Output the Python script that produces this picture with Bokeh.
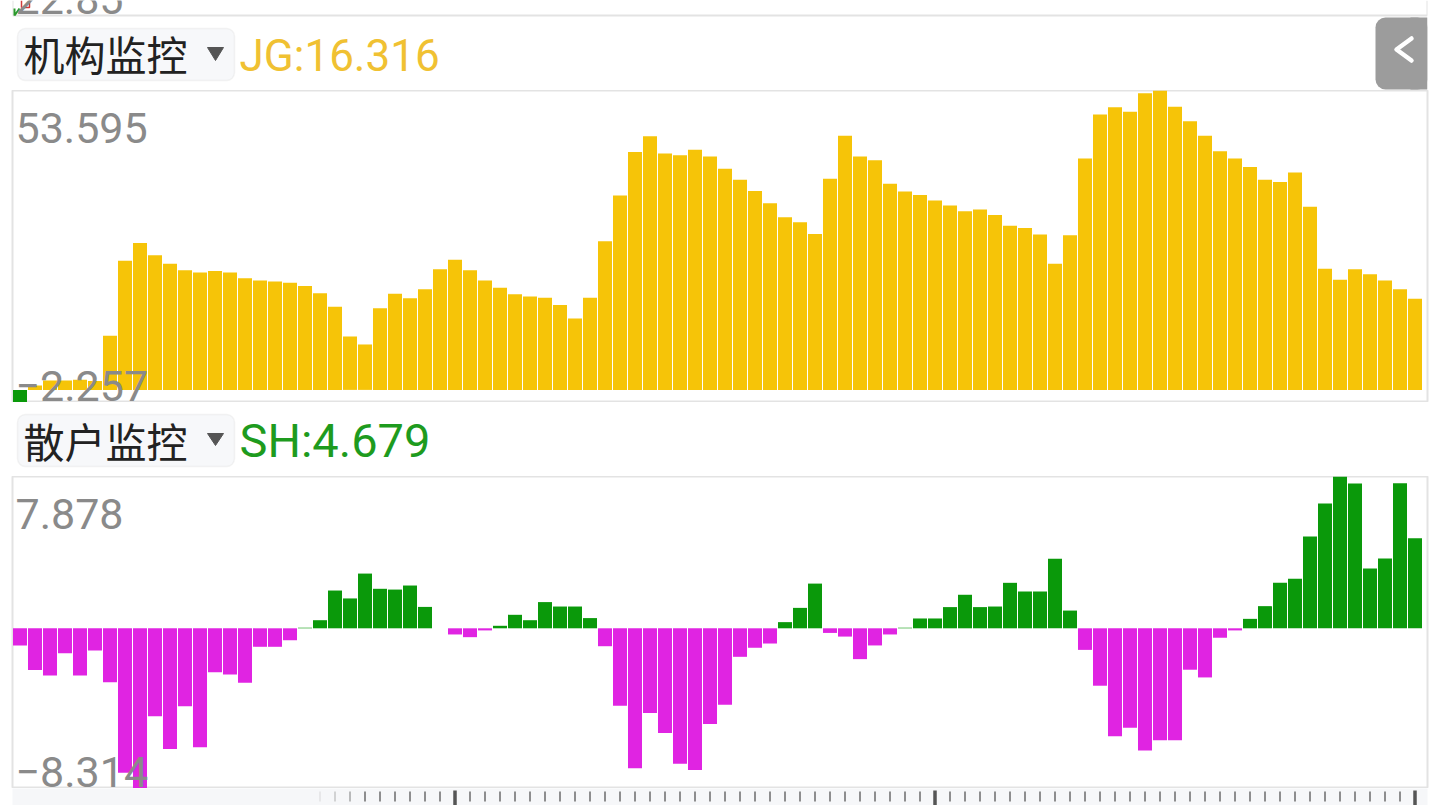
from bokeh.plotting import figure
from bokeh.layouts import column
from bokeh.models import Range1d, Label, BoxAnnotation, ColumnDataSource
from bokeh.embed import file_html
from bokeh.resources import INLINE

# ---------------- data ----------------
JG_VALUES = [-2.257, 0.8, 1.7, 1.7, 1.8, 1.6, 9.68, 23.1, 26.3, 24.1,
             22.6, 21.4, 21.0, 21.3, 21.0, 20.0, 19.6, 19.4, 19.2, 18.6,
             17.3, 14.9, 9.56, 8.13, 14.6, 17.2, 16.4, 18.0, 21.6, 23.3,
             21.4, 19.6, 18.3, 17.1, 16.7, 16.5, 15.2, 12.8, 16.5, 26.6,
             34.8, 42.6, 45.4, 42.3, 42.0, 43.0, 41.8, 39.6, 37.6, 35.6,
             33.4, 30.9, 30.0, 27.9, 37.8, 45.5, 41.8, 41.1, 36.9, 35.5,
             34.9, 33.9, 33.0, 32.0, 32.3, 31.3, 29.4, 29.0, 27.8, 22.6,
             27.7, 41.4, 49.3, 50.6, 49.8, 53.1, 53.595, 50.7, 48.1, 45.5,
             42.7, 41.4, 39.9, 37.6, 37.2, 38.9, 32.8, 21.7, 19.7, 21.6,
             20.7, 19.6, 18.0, 16.316]
SH_VALUES = [-0.89, -2.17, -2.45, -1.29, -2.45, -1.15, -2.80, -7.50, -8.314, -4.56,
             -6.27, -4.04, -6.17, -2.28, -2.40, -2.83, -0.96, -0.96, -0.62, 0.03,
             0.42, 1.96, 1.55, 2.84, 2.05, 2.01, 2.22, 1.11, 0.0, -0.32,
             -0.46, -0.11, 0.13, 0.70, 0.42, 1.36, 1.13, 1.13, 0.53, -0.93,
             -4.02, -7.26, -4.39, -5.44, -7.03, -7.36, -4.97, -3.97, -1.48, -1.01,
             -0.79, 0.32, 1.06, 2.32, -0.24, -0.43, -1.60, -0.89, -0.32, 0.03,
             0.51, 0.51, 1.10, 1.74, 1.10, 1.13, 2.36, 1.91, 1.91, 3.61,
             0.92, -1.12, -2.98, -5.60, -5.16, -6.34, -5.81, -5.81, -2.15, -2.55,
             -0.49, -0.11, 0.49, 1.15, 2.36, 2.57, 4.76, 6.48, 7.878, 7.51,
             3.10, 3.62, 7.53, 4.679]
JG_TITLE = "机构监控"
SH_TITLE = "散户监控"
JG_LAST = "JG:16.316"
SH_LAST = "SH:4.679"
JG_MAX, JG_MIN = 53.595, -2.257
SH_MAX, SH_MIN = 7.878, -8.314
JG_MAX_TXT, JG_MIN_TXT = "53.595", "\u22122.257"
SH_MAX_TXT, SH_MIN_TXT = "7.878", "\u22128.314"
PREV_LOW_TXT = "22.85"

# ---------------- style ----------------
W = 1440
NUM = "Roboto"
CJK = "Noto Sans CJK SC"
GRAY = "#8a8a8a"
FRAME = "#e3e3e3"
YELLOW = "#F6C408"
GREEN = "#0A990A"
MAGENTA = "#E024E2"
PANEL_H = 312
BAR_PX = 15.0
LEFT_B, RIGHT_B = 12, 13
FRAME_W = W - LEFT_B - RIGHT_B

n = len(JG_VALUES)
idx = list(range(n))
x_range = Range1d(-0.5, -0.5 + FRAME_W / BAR_PX)


def bare(p):
    p.grid.visible = False
    p.background_fill_color = "white"
    p.border_fill_color = "white"
    return p


def panel(vals, lo, hi, pos_color, neg_color, top_txt, top_mid, bot_txt, bot_mid, top_screen):
    p = figure(width=W, height=PANEL_H, x_range=x_range, y_range=Range1d(lo, hi),
               output_backend="svg", toolbar_location=None,
               x_axis_location=None, y_axis_location=None,
               min_border_left=LEFT_B, min_border_right=RIGHT_B,
               min_border_top=0, min_border_bottom=0)
    bare(p)
    p.outline_line_color = FRAME
    p.outline_line_width = 2
    colors = [pos_color if v >= 0 else neg_color for v in vals]
    src = ColumnDataSource(dict(x=idx, top=vals, c=colors))
    p.vbar(x="x", top="top", bottom=0, width=14.0 / BAR_PX, fill_color="c",
           line_color=None, source=src)
    per_px = (hi - lo) / PANEL_H

    def yv(sy):
        return hi - (sy - top_screen) * per_px
    xl = -0.5 + 3.0 / BAR_PX
    for t, m in ((top_txt, top_mid), (bot_txt, bot_mid)):
        p.add_layout(Label(x=xl, y=yv(m), text=t, text_font=NUM, text_font_size="43px",
                           text_color=GRAY, text_baseline="middle", text_align="left"))
    return p


def strip_fig(height, top_s, bottom_s):
    # frame aligned with the panels' frames (column aligns them); data x == page x
    p = figure(width=W, height=height, x_range=Range1d(LEFT_B, W - RIGHT_B),
               y_range=Range1d(bottom_s, top_s),
               output_backend="svg", toolbar_location=None,
               x_axis_location=None, y_axis_location=None,
               min_border_left=LEFT_B, min_border_right=RIGHT_B,
               min_border_top=0, min_border_bottom=0)
    bare(p)
    p.outline_line_color = None
    return p


def header(p, title, title_mid, value_txt, value_color, value_size, ytop, ybot,
           tri_top, tri_bot, val_mid):
    p.add_layout(BoxAnnotation(left=17, right=234, top=ytop, bottom=ybot,
                               fill_color="#f7f8fa", fill_alpha=1.0,
                               line_color="#d9dadc", line_width=1.5, border_radius=8,
                               level="underlay"))
    p.add_layout(Label(x=23, y=title_mid, text=title, text_font=CJK,
                       text_font_size="41px", text_color="#222222",
                       text_baseline="middle", text_align="left"))
    p.patch([207, 223, 215], [tri_top, tri_top, tri_bot], color="#555555")
    p.add_layout(Label(x=239, y=val_mid, text=value_txt, text_font=NUM,
                       text_font_size=value_size, text_color=value_color,
                       text_baseline="middle", text_align="left"))


# header above JG panel: screen y 0..90
f0 = strip_fig(90, 0, 90)
f0.line([12, 1427], [15, 15], line_color=FRAME, line_width=2)
f0.line([12, 12], [0, 15], line_color=FRAME, line_width=2)
f0.line([1427, 1427], [0, 15], line_color=FRAME, line_width=2)
f0.add_layout(Label(x=15, y=-2, text=PREV_LOW_TXT, text_font=NUM, text_font_size="43px",
                    text_color=GRAY, text_baseline="middle", text_align="left"))
f0.line([14, 14, 19], [8, 15, 8], line_color="#2a9a2a", line_width=2)
f0.line([21, 21, 29, 29], [0, 7, 7, 0], line_color="#d23a3a", line_width=1.5)
header(f0, JG_TITLE, 52, JG_LAST, "#F0C132", "44px", 28, 80, 47, 60, 55)
f0.add_layout(BoxAnnotation(left=1375, right=1427, top=17, bottom=89,
                            fill_color="#9c9c9c", fill_alpha=1.0, line_color=None,
                            border_radius=10, level="underlay"))
f0.quad(left=1410, right=1427, top=17, bottom=89, fill_color="#9c9c9c", line_color=None)
f0.line([1411, 1396, 1411], [38, 49, 60], line_color="white", line_width=4.5,
        line_cap="round", line_join="round")

# JG panel: screen y 90..402
f1 = panel(JG_VALUES, JG_MIN, JG_MAX, YELLOW, GREEN, JG_MAX_TXT, 127, JG_MIN_TXT, 385.5, 90)

# header above SH panel: screen y 402..476
f2 = strip_fig(74, 402, 476)
header(f2, SH_TITLE, 439, SH_LAST, "#1E9B1E", "47px", 414, 466, 433, 445, 440)

# SH panel: screen y 476..788
f3 = panel(SH_VALUES, SH_MIN, SH_MAX, GREEN, MAGENTA, SH_MAX_TXT, 513, SH_MIN_TXT, 771.5, 476)

# scroll strip below: screen y 788..805
f4 = figure(width=W, height=17, x_range=x_range, y_range=Range1d(805, 788),
            output_backend="svg", toolbar_location=None,
            x_axis_location=None, y_axis_location=None,
            min_border_left=LEFT_B, min_border_right=RIGHT_B,
            min_border_top=0, min_border_bottom=0)
bare(f4)
f4.outline_line_color = None
f4.background_fill_color = "#f6f7f9"
tick_x = list(range(20, n))
tick_alpha = [0.15, 0.35, 0.6] + [1.0] * (len(tick_x) - 3)
f4.segment(x0=tick_x, y0=791, x1=tick_x, y1=801, line_color="#6a6a6a",
           line_width=1.5, line_alpha=tick_alpha)
major = [i for i in tick_x if (i - 29) % 32 == 0]
f4.segment(x0=major, y0=790, x1=major, y1=805, line_color="#555555", line_width=3.5)

layout = column(f0, f1, f2, f3, f4, spacing=0)
open("out.html", "w").write(file_html(layout, INLINE))
